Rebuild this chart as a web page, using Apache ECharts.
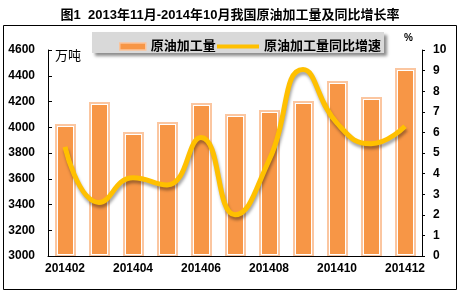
<!DOCTYPE html>
<html><head><meta charset="utf-8">
<script src="https://cdn.jsdelivr.net/npm/echarts@6/dist/echarts.min.js"></script>
<style>html,body{margin:0;padding:0;background:#fff}#c{width:460px;height:293px}</style>
</head><body><div id="c"></div>
<script>
const categories = ['201402','201403','201404','201405','201406','201407','201408','201409','201410','201411','201412'];
const volume = [4000, 4170, 3940, 4015, 4162, 4083, 4113, 4178, 4335, 4210, 4440];
const growth = [5.3, 2.6, 3.8, 3.45, 5.75, 2.0, 4.65, 9.05, 6.45, 5.45, 6.3];
const leftTicks = {min: 3000, max: 4600, interval: 200};
const rightTicks = {min: 0, max: 10, interval: 1};
const FF = '"Liberation Sans", Arial, "Noto Sans CJK SC", sans-serif';

const barData = volume.map((v, i) => [categories[i], v]);

function renderBar(params, api) {
  const topPt = api.coord([api.value(0), api.value(1)]);
  const basePt = api.coord([api.value(0), leftTicks.min]);
  const w = 15;
  const cx = Math.round(topPt[0]) + 0.5;
  const top = Math.round(topPt[1]);
  const bottom = Math.round(basePt[1]);
  const x0 = Math.round(cx - w / 2);
  return {type: 'group', children: [
    {type: 'rect', shape: {x: x0 - 3, y: top - 3, width: w + 6, height: bottom - top + 3}, style: {fill: '#FBC6A0'}},
    {type: 'rect', shape: {x: x0 - 1, y: top - 1, width: w + 2, height: bottom - top}, style: {fill: '#FFFFFF'}},
    {type: 'rect', shape: {x: x0, y: top, width: w, height: bottom - top - 2}, style: {fill: '#F79646'}}
  ]};
}

const chart = echarts.init(document.getElementById('c'));
chart.setOption({
  animation: false,
  backgroundColor: '#fff',
  title: {
    text: '图1  2013年11月-2014年10月我国原油加工量及同比增长率',
    left: 'center', top: 4,
    textStyle: {fontFamily: FF, fontSize: 13, fontWeight: 'bold', color: '#000'}
  },
  graphic: [
    {type: 'rect', shape: {x: 3.5, y: 25.5, width: 453, height: 264}, style: {fill: 'none', stroke: '#000', lineWidth: 1}, z: 0},
    {type: 'rect', shape: {x: 92, y: 32, width: 292, height: 21}, style: {fill: '#D9D9D9', shadowBlur: 3, shadowOffsetX: 3, shadowOffsetY: 3, shadowColor: 'rgba(0,0,0,0.45)'}, z: 1},
    {type: 'text', left: 55, top: 50, style: {text: '万吨', fontFamily: FF, fontSize: 13, fill: '#000'}, z: 5},
    {type: 'text', left: 404, top: 33, style: {text: '%', fontFamily: FF, fontSize: 10, fontWeight: 'bold', fill: '#000'}, z: 5}
  ],
  legend: [
    {data: [{name: '原油加工量', icon: 'rect', itemStyle: {color: '#F79646', borderColor: '#FBC49B', borderWidth: 1.5}}],
     left: 114, top: 35, itemWidth: 26, itemHeight: 7, itemGap: 4, z: 5,
     textStyle: {fontFamily: FF, fontSize: 13, fontWeight: 'bold', color: '#000'}},
    {data: [{name: '原油加工量同比增速', icon: 'rect', itemStyle: {color: '#FFC000'}}],
     left: 212, top: 35, itemWidth: 42, itemHeight: 4, itemGap: 4, z: 5,
     textStyle: {fontFamily: FF, fontSize: 13, fontWeight: 'bold', color: '#000'}}
  ],
  grid: {left: 48, right: 38, top: 50, bottom: 37},
  xAxis: {
    type: 'category', data: categories, boundaryGap: true,
    axisLine: {lineStyle: {color: '#000', width: 1}},
    axisTick: {show: false},
    axisLabel: {interval: 1, margin: 7, fontFamily: FF, fontSize: 12, fontWeight: 'bold', color: '#000'}
  },
  yAxis: [
    {type: 'value', min: leftTicks.min, max: leftTicks.max, interval: leftTicks.interval,
     splitLine: {show: false},
     axisLine: {show: true, lineStyle: {color: '#000'}},
     axisTick: {show: true, inside: true, length: 4, lineStyle: {color: '#000'}},
     axisLabel: {margin: 13, formatter: v => String(v), fontFamily: FF, fontSize: 12, fontWeight: 'bold', color: '#000'}},
    {type: 'value', min: rightTicks.min, max: rightTicks.max, interval: rightTicks.interval,
     splitLine: {show: false},
     axisLine: {show: true, lineStyle: {color: '#000'}},
     axisTick: {show: true, inside: false, length: 3, lineStyle: {color: '#000'}},
     axisLabel: {margin: 11, fontFamily: FF, fontSize: 12, fontWeight: 'bold', color: '#000'}}
  ],
  series: [
    {name: '原油加工量', type: 'custom', data: barData, encode: {x: 0, y: 1}, yAxisIndex: 0,
     renderItem: renderBar, itemStyle: {color: '#F79646'}, z: 1},
    {name: '原油加工量同比增速', type: 'line', data: growth, yAxisIndex: 1, smooth: 0.5,
     showSymbol: false, symbol: 'none',
     lineStyle: {color: '#FFC000', width: 5, shadowColor: 'rgba(0,0,0,0.35)', shadowBlur: 3, shadowOffsetX: 1, shadowOffsetY: 3},
     itemStyle: {color: '#FFC000'}, z: 3}
  ]
});
</script></body></html>
